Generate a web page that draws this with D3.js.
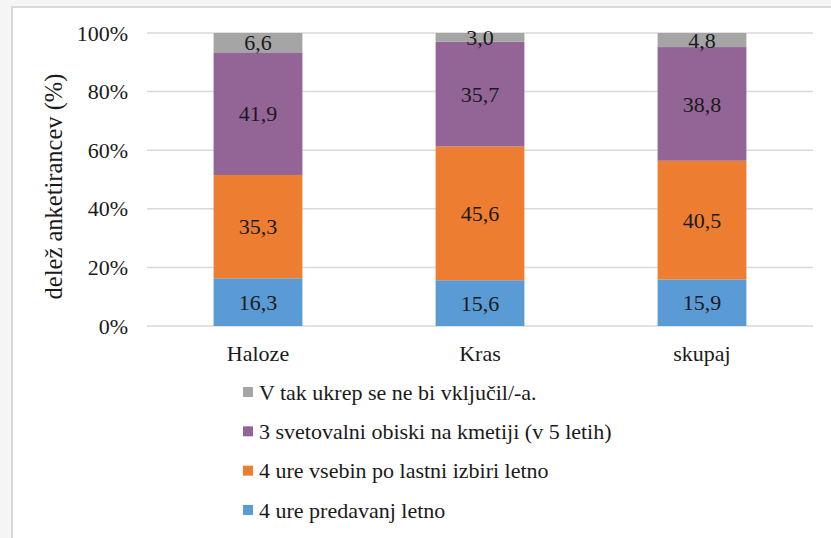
<!DOCTYPE html>
<html>
<head>
<meta charset="utf-8">
<script src="https://cdn.jsdelivr.net/npm/d3@7"></script>
<style>
  html, body { margin: 0; padding: 0; background: #f5f5f5; }
  svg { display: block; }
</style>
</head>
<body>
<svg id="chart" width="831" height="538"></svg>
<script>
const categories = ["Haloze", "Kras", "skupaj"];
const seriesNames = [
  "4 ure predavanj letno",
  "4 ure vsebin po lastni izbiri letno",
  "3 svetovalni obiski na kmetiji (v 5 letih)",
  "V tak ukrep se ne bi vključil/-a."
];
const seriesColors = ["#5b9bd5", "#ed7d31", "#936597", "#a5a5a5"];
const predavanj = [16.3, 15.6, 15.9];
const vsebin = [35.3, 45.6, 40.5];
const obiski = [41.9, 35.7, 38.8];
const neBi = [6.6, 3.0, 4.8];
const yTicks = [0, 0.2, 0.4, 0.6, 0.8, 1.0];
const yTitle = "delež anketirancev (%)";

const FONT = "'Times New Roman', 'Liberation Serif', 'Liberation Sans', Arial, sans-serif";
const TXT = "#1a1a1a";
const FS = 22;

const seriesValues = [predavanj, vsebin, obiski, neBi];
const rows = categories.map((c, i) => {
  const r = { cat: c };
  seriesNames.forEach((s, j) => r[s] = seriesValues[j][i]);
  return r;
});

const svg = d3.select("#chart").style("font-family", FONT);
// panel
svg.append("rect").attr("x", 12).attr("y", 7).attr("width", 831).attr("height", 540)
  .attr("fill", "#ffffff").attr("stroke", "#d9d9d9").attr("stroke-width", 2);

const pLeft = 147, pRight = 813, pTop = 33, pBottom = 326;
const x = d3.scaleBand().domain(categories).range([pLeft, pRight]).paddingInner(0.6).paddingOuter(0.3);
const y = d3.scaleLinear().domain([0, 1]).range([pBottom, pTop]);

// gridlines
svg.append("g").selectAll("line").data(yTicks).join("line")
  .attr("x1", pLeft).attr("x2", pRight)
  .attr("y1", d => y(d)).attr("y2", d => y(d))
  .attr("stroke", "#d9d9d9").attr("stroke-width", 1.5);

// y axis labels via d3 axis
const yAxis = d3.axisLeft(y).tickValues(yTicks).tickFormat(d => Math.round(d * 100) + "%").tickSize(0).tickPadding(0);
const yg = svg.append("g").attr("transform", `translate(128,0)`).call(yAxis)
  .attr("font-family", null).attr("font-size", FS);
yg.select(".domain").remove();
yg.selectAll("text").attr("fill", TXT).style("font-family", FONT);

// stack
const stack = d3.stack().keys(seriesNames).offset(d3.stackOffsetExpand);
const layers = stack(rows);

const g = svg.append("g");
layers.forEach((layer, li) => {
  g.append("g").selectAll("rect").data(layer).join("rect")
    .attr("x", d => x(d.data.cat))
    .attr("width", x.bandwidth())
    .attr("y", d => y(d[1]))
    .attr("height", d => y(d[0]) - y(d[1]))
    .attr("fill", seriesColors[li]);
  g.append("g").selectAll("text").data(layer).join("text")
    .attr("x", d => x(d.data.cat) + x.bandwidth() / 2)
    .attr("y", d => (y(d[0]) + y(d[1])) / 2)
    .attr("dy", "0.35em")
    .attr("text-anchor", "middle")
    .style("font-family", FONT)
    .attr("font-size", FS)
    .attr("fill", TXT)
    .text(d => d.data[layer.key].toFixed(1).replace(".", ","));
});

// x axis labels
const xAxis = d3.axisBottom(x).tickSize(0).tickPadding(0);
const xg = svg.append("g").attr("transform", `translate(0,353)`).call(xAxis)
  .attr("font-family", null).attr("font-size", FS);
xg.select(".domain").remove();
xg.selectAll("text").attr("fill", TXT).attr("dy", "0.35em").style("font-family", FONT);

// y title
svg.append("text")
  .attr("transform", `translate(53,${(pTop + pBottom) / 2 + 7}) rotate(-90)`)
  .attr("text-anchor", "middle")
  .attr("dy", "0.35em")
  .style("font-family", FONT)
  .attr("font-size", 24.5)
  .attr("fill", TXT)
  .text(yTitle);

// legend (reverse order)
const legendItems = seriesNames.map((s, i) => ({ name: s, color: seriesColors[i] })).reverse();
const lg = svg.append("g");
const rowY = d3.scalePoint().domain(legendItems.map(d => d.name)).range([392, 510]);
legendItems.forEach(d => {
  lg.append("rect").attr("x", 243).attr("y", rowY(d.name) - 5).attr("width", 10).attr("height", 10).attr("fill", d.color);
  lg.append("text").attr("x", 259).attr("y", rowY(d.name)).attr("dy", "0.35em")
    .style("font-family", FONT).attr("font-size", FS).attr("fill", TXT).text(d.name);
});
</script>
</body>
</html>
